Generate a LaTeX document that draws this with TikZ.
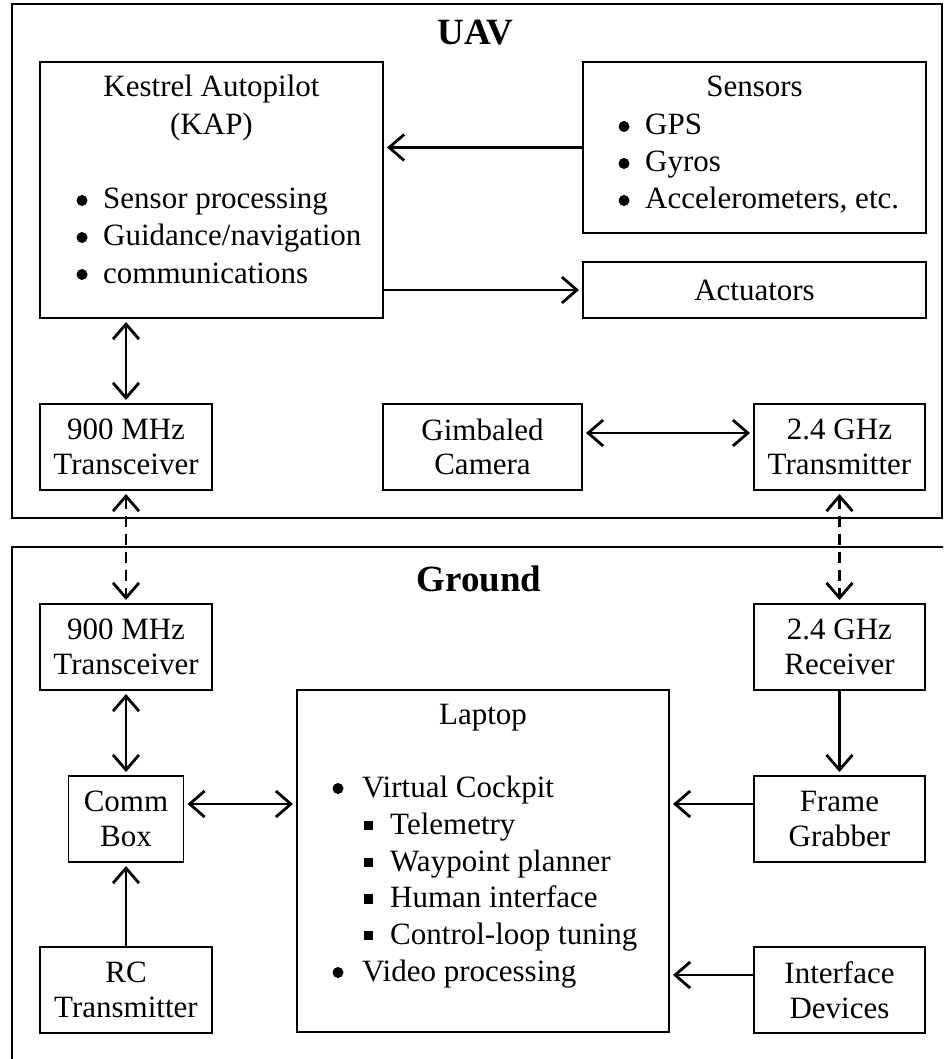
\documentclass[tikz,border=0pt]{standalone}
\usepackage{fontspec}
\setmainfont{Liberation Serif}
\usetikzlibrary{arrows.meta}
\newcommand{\sqbul}[1]{\llap{\rule[3.8pt]{9.5pt}{9.5pt}\hspace{17pt}}#1}
\begin{document}
\begin{tikzpicture}[x=1pt,y=-1pt,
  box/.style={draw, line width=1.4pt, inner sep=0pt, outer sep=0pt, align=center,
    font=\fontsize{31}{34.5}\selectfont},
  frame/.style={draw, line width=1.5pt},
  ln/.style={inner sep=0pt, anchor=base west, font=\fontsize{31}{34}\selectfont},
  ctr/.style={inner sep=0pt, anchor=base, font=\fontsize{31}{34}\selectfont},
  ttl/.style={inner sep=0pt, anchor=base, font=\fontsize{37}{40}\selectfont\bfseries},
  conn/.style={line width=2.8pt, -{Straight Barb[length=15pt,width=26pt]}, shorten >=4pt},
  dconn/.style={line width=2.8pt, {Straight Barb[length=15pt,width=26pt]}-{Straight Barb[length=15pt,width=26pt]}, shorten <=4pt, shorten >=4pt},
  radio/.style={dconn, dash pattern=on 11pt off 7pt},
]
\clip (0,0) rectangle (943,1059);
\fill[white] (0,0) rectangle (943,1059);

% frames
\draw[frame] (12,4) rectangle (942,518);
\draw[frame] (960,547) -- (12,547) -- (12,1080);
\node[ttl] (uav) at (475,45) {UAV};
\node[ttl] (ground) at (479,591) {Ground};

% UAV boxes
\node[box, minimum width=343pt, minimum height=256pt] (kap) at (211.5,190) {};
\node[ctr] (kapt1) at (211.5,97) {Kestrel Autopilot};
\node[ctr] (kapt2) at (211.5,135) {(KAP)};
\node[ln] (kapl1) at (103,209) {Sensor processing};
\node[ln] (kapl2) at (103,246) {Guidance/navigation};
\node[ln] (kapl3) at (103,283) {communications};

\node[box, minimum width=343pt, minimum height=171pt] (sen) at (754.5,147.5) {};
\node[ctr] (sent) at (754.5,97) {Sensors};
\node[ln] (senl1) at (645,135) {GPS};
\node[ln] (senl2) at (645,172) {Gyros};
\node[ln] (senl3) at (645,209) {Accelerometers, etc.};

\node[box, minimum width=343pt, minimum height=56pt] (act) at (754.5,290) {Actuators};

\node[box, minimum width=172pt, minimum height=86pt] (tr1) at (126,447) {900 MHz\\Transceiver};
\node[box, minimum width=199pt, minimum height=86pt] (gim) at (482.5,447) {Gimbaled\\Camera};
\node[box, minimum width=171pt, minimum height=86pt] (tx) at (839.5,447) {2.4 GHz\\Transmitter};

% Ground boxes
\node[box, minimum width=172pt, minimum height=86pt] (tr2) at (126,647) {900 MHz\\Transceiver};
\node[box, minimum width=171pt, minimum height=86pt] (rx) at (839.5,647) {2.4 GHz\\Receiver};
\node[box, minimum width=115pt, minimum height=86pt] (comm) at (126,819) {Comm\\Box};
\node[box, minimum width=172pt, minimum height=86pt] (rc) at (126,990) {RC\\Transmitter};
\node[box, minimum width=171pt, minimum height=86pt] (fg) at (839.5,819) {Frame\\Grabber};
\node[box, minimum width=171pt, minimum height=86pt] (ifd) at (839.5,990) {Interface\\Devices};

\node[box, minimum width=372pt, minimum height=342pt] (lap) at (483,861) {};
\node[ctr] (lapt) at (483,724) {Laptop};
\node[ln] (lap1) at (362,797) {Virtual Cockpit};
\node[ln] (lap2) at (390,834) {\sqbul{Telemetry}};
\node[ln] (lap3) at (390,871) {\sqbul{Waypoint planner}};
\node[ln] (lap4) at (390,907.5) {\sqbul{Human interface}};
\node[ln] (lap5) at (390,944) {\sqbul{Control-loop tuning}};
\node[ln] (lap6) at (362,981) {Video processing};

% bullets
\foreach \n in {kapl1,kapl2,kapl3,senl1,senl2,senl3}
  \fill ([xshift=-21pt,yshift=8.5pt]\n.base west) circle (5.5pt);
\foreach \n in {lap1,lap6}
  \fill ([xshift=-24pt,yshift=8.5pt]\n.base west) circle (5.5pt);

% helper coordinates
\coordinate (ygim) at (0,433);
\coordinate (ylapA) at (0,804);
\coordinate (ylapB) at (0,975);

% connectors
\draw[conn] (sen.west) -- (sen.west -| kap.east);
\draw[conn] (act.west -| kap.east) -- (act.west);
\draw[dconn] (kap.south -| tr1) -- (tr1.north);
\draw[dconn] (gim.east |- ygim) -- (tx.west |- ygim);
\draw[radio] (tr1.south) -- (tr2.north);
\draw[radio] (tx.south) -- (rx.north);
\draw[dconn] (tr2.south) -- (comm.north);
\draw[conn] (rc.north) -- (comm.south);
\draw[dconn] (comm.east |- ylapA) -- (lap.west |- ylapA);
\draw[conn] (rx.south) -- (fg.north);
\draw[conn] (fg.west |- ylapA) -- (lap.east |- ylapA);
\draw[conn] (ifd.west |- ylapB) -- (lap.east |- ylapB);
\end{tikzpicture}
\end{document}
